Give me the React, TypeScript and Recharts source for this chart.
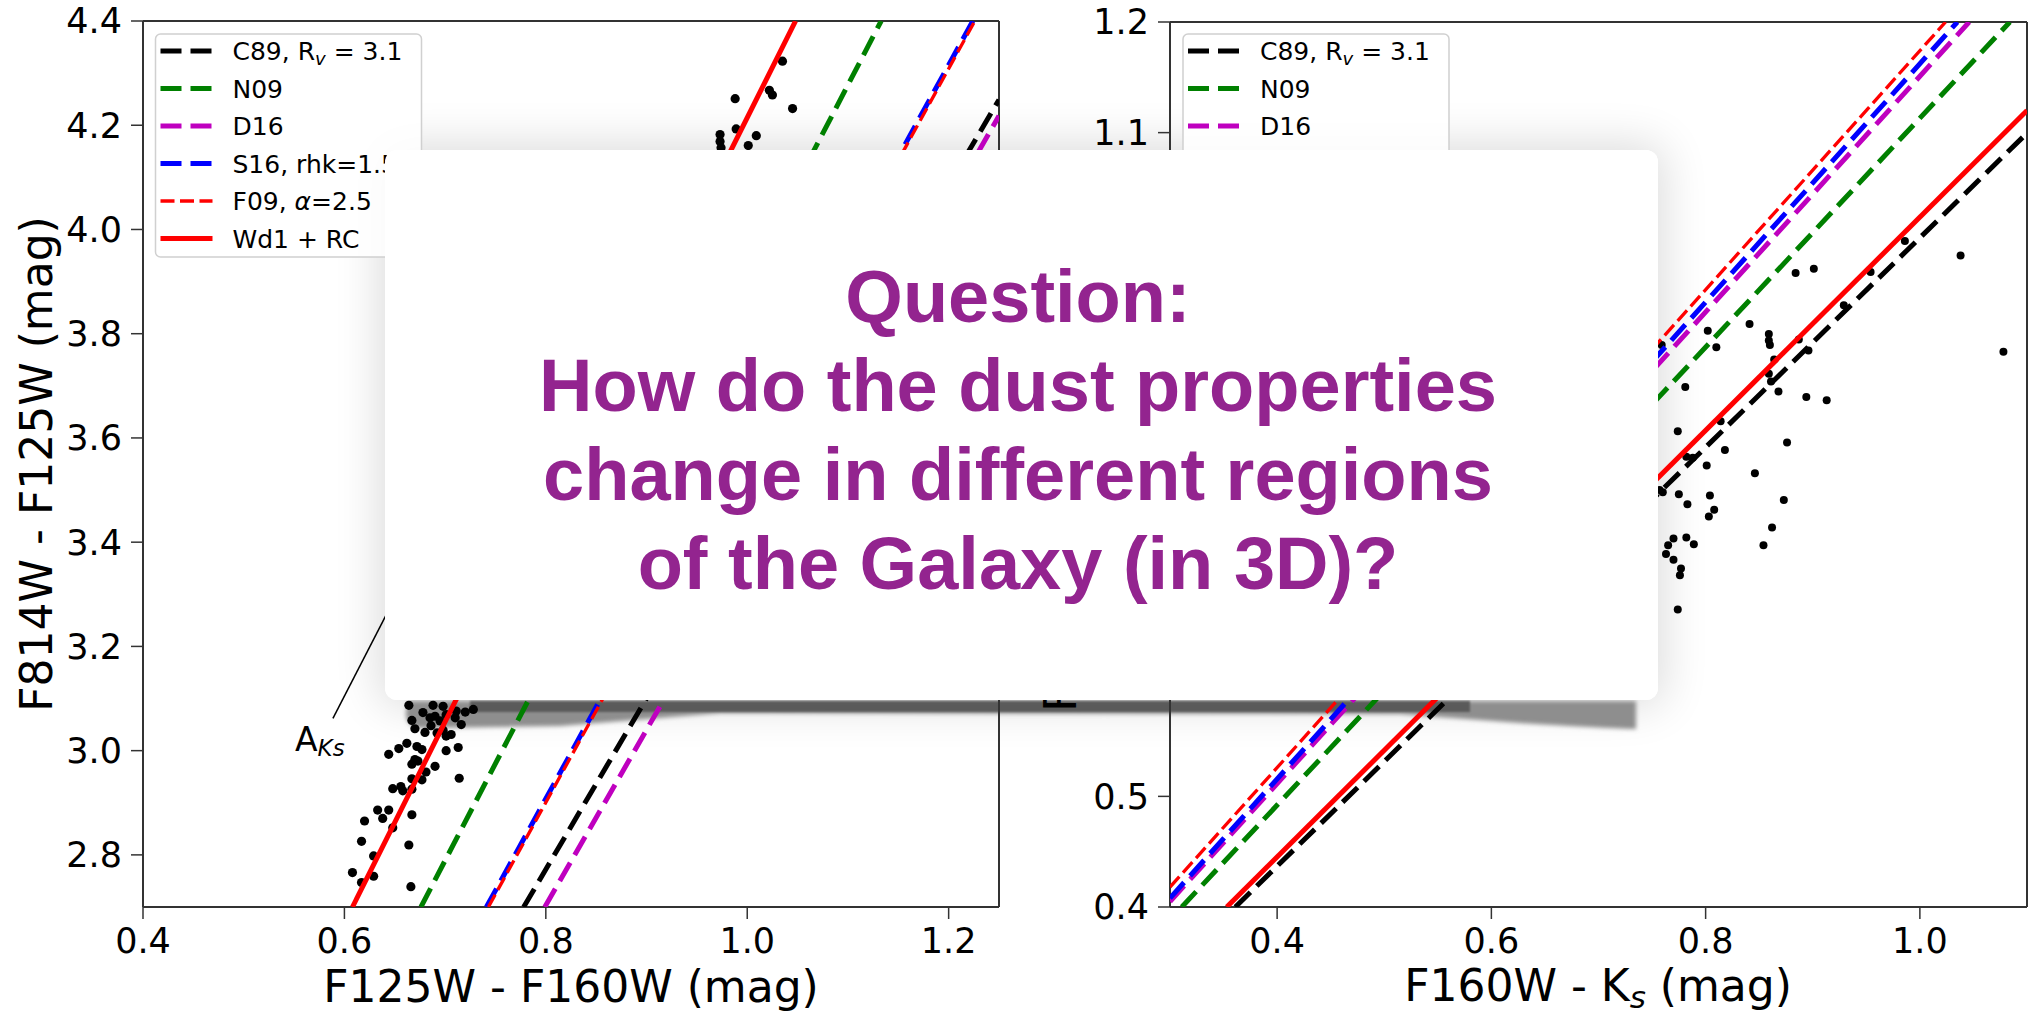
import React from 'react';
import { ScatterChart, Scatter, XAxis, YAxis, ReferenceLine } from 'recharts';

// ---------------- Left panel: F125W - F160W vs F814W - F125W ----------------
const leftXDomain = [0.4, 1.25];
const leftYDomain = [2.7, 4.4];
const leftXTicks = [0.4, 0.6, 0.8, 1.0, 1.2];
const leftYTicks = [2.8, 3.0, 3.2, 3.4, 3.6, 3.8, 4.0, 4.2, 4.4];

const leftStars = [
  [1.035, 4.323], [0.988, 4.251], [1.022, 4.267], [1.025, 4.258], [1.045, 4.232],
  [0.989, 4.193], [0.973, 4.182], [1.009, 4.180], [0.973, 4.169], [1.001, 4.161], [0.974, 4.157],
  [0.664, 3.087], [0.678, 3.073], [0.688, 3.087], [0.698, 3.085], [0.701, 3.069],
  [0.711, 3.076], [0.720, 3.074], [0.728, 3.079], [0.667, 3.058], [0.685, 3.063],
  [0.690, 3.066], [0.695, 3.057], [0.710, 3.063], [0.716, 3.050], [0.670, 3.042],
  [0.680, 3.035], [0.686, 3.048], [0.692, 3.034], [0.698, 3.039], [0.701, 3.028],
  [0.706, 3.031], [0.662, 3.014], [0.654, 3.004], [0.644, 2.993], [0.672, 3.008],
  [0.677, 3.002], [0.701, 3.000], [0.713, 3.006], [0.670, 2.983], [0.667, 2.974],
  [0.673, 2.980], [0.681, 2.959], [0.690, 2.970], [0.667, 2.946], [0.677, 2.944],
  [0.714, 2.947], [0.648, 2.927], [0.656, 2.931], [0.658, 2.923], [0.667, 2.926],
  [0.633, 2.886], [0.644, 2.886], [0.638, 2.870], [0.620, 2.865], [0.667, 2.877],
  [0.648, 2.852], [0.617, 2.826], [0.664, 2.819], [0.629, 2.798], [0.608, 2.766],
  [0.629, 2.759], [0.617, 2.747], [0.666, 2.739],
];

const leftC89 = [[0.778, 2.7], [1.25, 4.249]];
const leftN09 = [[0.676, 2.7], [1.133, 4.4]];
const leftD16 = [[0.799, 2.7], [1.25, 4.218]];
const leftS16 = [[0.741, 2.7], [1.224, 4.4]];
const leftF09 = [[0.743, 2.7], [1.226, 4.4]];
const leftWd1 = [[0.608, 2.7], [1.048, 4.4]];
const leftAksPointer = [[0.5886, 3.062], [0.66, 3.33]];

// ---------------- Right panel: F160W - Ks vs F125W - F160W ----------------
const rightXDomain = [0.3, 1.1];
const rightYDomain = [0.4, 1.2];
const rightXTicks = [0.4, 0.6, 0.8, 1.0];
const rightYTicks = [0.4, 0.5, 0.6, 0.7, 0.8, 0.9, 1.0, 1.1, 1.2];

const rightStars = [
  [0.986, 1.002], [1.038, 0.989], [0.884, 0.973], [0.901, 0.977], [0.954, 0.974], [0.929, 0.944],
  [0.841, 0.927], [0.802, 0.921], [0.810, 0.906], [0.859, 0.918], [0.859, 0.912], [0.860, 0.908],
  [0.887, 0.913], [0.896, 0.903], [1.078, 0.902], [0.864, 0.895], [0.859, 0.882], [0.861, 0.875],
  [0.868, 0.866], [0.894, 0.861], [0.913, 0.858], [0.781, 0.870], [0.774, 0.830], [0.814, 0.839],
  [0.818, 0.813], [0.876, 0.820], [0.782, 0.807], [0.788, 0.806], [0.801, 0.799], [0.846, 0.792],
  [0.760, 0.775], [0.775, 0.773], [0.783, 0.764], [0.804, 0.772], [0.808, 0.759], [0.803, 0.753],
  [0.873, 0.768], [0.862, 0.743], [0.854, 0.727], [0.770, 0.733], [0.782, 0.734], [0.789, 0.728],
  [0.765, 0.727], [0.763, 0.719], [0.770, 0.714], [0.777, 0.706], [0.776, 0.700], [0.774, 0.669],
  [0.759, 0.908], [0.757, 0.777],
];

const rightC89 = [[0.361, 0.4], [1.1, 1.0996]];
const rightN09 = [[0.311, 0.4], [1.084, 1.2]];
const rightD16 = [[0.3, 0.405], [1.046, 1.2]];
const rightS16 = [[0.3, 0.408], [1.035, 1.2]];
const rightF09 = [[0.3, 0.418], [1.024, 1.2]];
const rightWd1 = [[0.353, 0.4], [1.1, 1.12]];

// ---------------- Series / legend ----------------
const seriesKeys = ['C89', 'N09', 'D16', 'S16', 'F09', 'Wd1'];
const legendLabels = ['C89, R_v = 3.1', 'N09', 'D16', 'S16, rhk=1.55', 'F09, α=2.5', 'Wd1 + RC'];

const questionLines = [
  'Question:',
  'How do the dust properties',
  'change in different regions',
  'of the Galaxy (in 3D)?',
];

// styles (kept apart from the data)
const STYLE: Record<string, { color: string; width: number; dash?: string }> = {
  C89: { color: '#000000', width: 5, dash: '21 9' },
  N09: { color: '#008000', width: 5, dash: '21 9' },
  D16: { color: '#bf00bf', width: 5, dash: '21 9' },
  S16: { color: '#0000ff', width: 5, dash: '21 9' },
  F09: { color: '#ff0000', width: 3.3, dash: '14 5.5' },
  Wd1: { color: '#ff0000', width: 5 },
};

const toPts = (a: number[][]) => a.map(([x, y]) => ({ x, y }));
const leftLines: Record<string, number[][]> = { C89: leftC89, N09: leftN09, D16: leftD16, S16: leftS16, F09: leftF09, Wd1: leftWd1 };
const rightLines: Record<string, number[][]> = { C89: rightC89, N09: rightN09, D16: rightD16, S16: rightS16, F09: rightF09, Wd1: rightWd1 };

const AX = '#333333';
const FONT = '"DejaVu Sans", sans-serif';
const fmt = (v: number) => v.toFixed(1);

const makeDot = (r: number) => (p: any) =>
  p && p.cx != null ? <circle cx={p.cx} cy={p.cy} r={r} fill="#000" /> : <g />;
const NoDot = () => <g />;

function Panel(props: any) {
  const { left, width, marginTop, marginRight, yAxisWidth, xDomain, yDomain, xTicks, yTicks, stars, lines, dotR, pointer } = props;
  const tickStyle = { fontSize: 35, fontFamily: FONT, fill: '#000' };
  return (
    <div style={{ position: 'absolute', left, top: 0, zIndex: 1 }}>
      <ScatterChart width={width} height={1013} margin={{ top: marginTop, right: marginRight, bottom: 0, left: 0 }}>
        <XAxis type="number" dataKey="x" domain={xDomain} ticks={xTicks} allowDataOverflow interval={0}
          height={106} tickSize={12} tickMargin={9} tickFormatter={fmt} tick={tickStyle}
          axisLine={{ stroke: AX, strokeWidth: 2 }} tickLine={{ stroke: AX, strokeWidth: 1.5 }} />
        <YAxis type="number" dataKey="y" domain={yDomain} ticks={yTicks} allowDataOverflow interval={0}
          width={yAxisWidth} tickSize={12} tickMargin={9} tickFormatter={fmt} tick={tickStyle}
          axisLine={{ stroke: AX, strokeWidth: 2 }} tickLine={{ stroke: AX, strokeWidth: 1.5 }} />
        <ReferenceLine y={yDomain[1]} stroke={AX} strokeWidth={2} ifOverflow="visible" />
        <ReferenceLine x={xDomain[1]} stroke={AX} strokeWidth={2} ifOverflow="visible" />
        {pointer && (
          <ReferenceLine segment={toPts(pointer)} stroke="#000" strokeWidth={1.5} ifOverflow="visible" />
        )}
        <Scatter data={toPts(stars)} shape={makeDot(dotR)} isAnimationActive={false} />
        {seriesKeys.map((k) => (
          <Scatter key={k} data={toPts(lines[k])} shape={NoDot} lineType="joint" isAnimationActive={false}
            line={{ stroke: STYLE[k].color, strokeWidth: STYLE[k].width, strokeDasharray: STYLE[k].dash }} />
        ))}
      </ScatterChart>
    </div>
  );
}

function legendText(label: string, x: number, y: number) {
  if (label.startsWith('C89')) {
    return (
      <text x={x} y={y} fontSize={25} fontFamily={FONT} fill="#000">
        C89, R<tspan fontSize={18} fontStyle="italic" dy={5}>v</tspan>
        <tspan dy={-5}> = 3.1</tspan>
      </text>
    );
  }
  if (label.startsWith('F09')) {
    return (
      <text x={x} y={y} fontSize={25} fontFamily={FONT} fill="#000">
        F09, <tspan fontStyle="italic">α</tspan>=2.5
      </text>
    );
  }
  return (
    <text x={x} y={y} fontSize={25} fontFamily={FONT} fill="#000">{label}</text>
  );
}

function LegendBox({ x, y }: { x: number; y: number }) {
  return (
    <g>
      <rect x={x} y={y} width={266} height={223} rx={5} fill="#fff" fillOpacity={0.85} stroke="#d0d0d0" strokeWidth={1.5} />
      {seriesKeys.map((k, i) => {
        const cy = y + 17 + i * 37.5;
        const s = STYLE[k];
        return (
          <g key={k}>
            <line x1={x + 5} x2={x + 57} y1={cy} y2={cy} stroke={s.color} strokeWidth={s.width} strokeDasharray={s.dash} />
            {legendText(legendLabels[i], x + 77, cy + 9)}
          </g>
        );
      })}
    </g>
  );
}

export default function App() {
  return (
    <div style={{ position: 'absolute', left: 0, top: 0, width: 2032, height: 1013, background: '#fff', overflow: 'hidden' }}>
      {/* soft shadow of the question card (beneath the charts) */}
      <div style={{ position: 'absolute', left: 385, top: 150, width: 1273, height: 550, borderRadius: 12, background: '#fff', boxShadow: '0 0 45px 6px rgba(0,0,0,0.14)', zIndex: 0 }} />
      <svg width={2032} height={1013} style={{ position: 'absolute', left: 0, top: 0, zIndex: 0 }}>
        <defs>
          <filter id="blur2" x="-5%" y="-50%" width="110%" height="200%"><feGaussianBlur stdDeviation="2" /></filter>
          <filter id="blur1" x="-5%" y="-50%" width="110%" height="200%"><feGaussianBlur stdDeviation="1.3" /></filter>
        </defs>
        <path d="M408,701 L1636,701 L1636,729 Q1600,728 1520,723 L1400,714 L720,713 L560,726 L420,728 Q405,726 406,712 Z" fill="#8e8e8e" filter="url(#blur2)" />
        <rect x={470} y={701} width={1000} height={11} fill="#555" opacity={0.9} filter="url(#blur1)" />
      </svg>

      <Panel left={0} width={1010} marginTop={21} marginRight={11} yAxisWidth={143}
        xDomain={leftXDomain} yDomain={leftYDomain} xTicks={leftXTicks} yTicks={leftYTicks}
        stars={leftStars} lines={leftLines} dotR={4.6} pointer={leftAksPointer} />
      <Panel left={1020} width={1012} marginTop={22} marginRight={5} yAxisWidth={150}
        xDomain={rightXDomain} yDomain={rightYDomain} xTicks={rightXTicks} yTicks={rightYTicks}
        stars={rightStars} lines={rightLines} dotR={4} />

      {/* labels, legends, annotation text */}
      <svg width={2032} height={1013} style={{ position: 'absolute', left: 0, top: 0, zIndex: 2 }}>
        <text x={571} y={1002} textAnchor="middle" fontSize={44} fontFamily={FONT} fill="#000">F125W - F160W (mag)</text>
        <text transform="translate(52,464) rotate(-90)" textAnchor="middle" fontSize={44} fontFamily={FONT} fill="#000">F814W - F125W (mag)</text>
        <text x={1598} y={1001} textAnchor="middle" fontSize={44} fontFamily={FONT} fill="#000">
          F160W - K<tspan fontSize={31} fontStyle="italic" dy={7}>s</tspan><tspan dy={-7}> (mag)</tspan>
        </text>
        <text transform="translate(1076,464) rotate(-90)" textAnchor="middle" fontSize={44} fontFamily={FONT} fill="#000">F125W - F160W (mag)</text>
        <text x={295} y={751} fontSize={33} fontFamily={FONT} fill="#000">
          A<tspan fontSize={23} fontStyle="italic" dy={5}>Ks</tspan>
        </text>
        <LegendBox x={155.5} y={34} />
        <LegendBox x={1183} y={34} />
      </svg>

      {/* question card */}
      <div style={{ position: 'absolute', left: 385, top: 150, width: 1273, height: 550, borderRadius: 12, background: '#fff', zIndex: 3 }}>
        <svg width={1273} height={550}>
          {questionLines.map((t, i) => (
            <text key={i} x={633} y={172 + i * 89} textAnchor="middle" fontSize={74} fontWeight="bold"
              fontFamily='"Liberation Sans", Arial, Helvetica, sans-serif' fill="#93248f">{t}</text>
          ))}
        </svg>
      </div>
    </div>
  );
}
